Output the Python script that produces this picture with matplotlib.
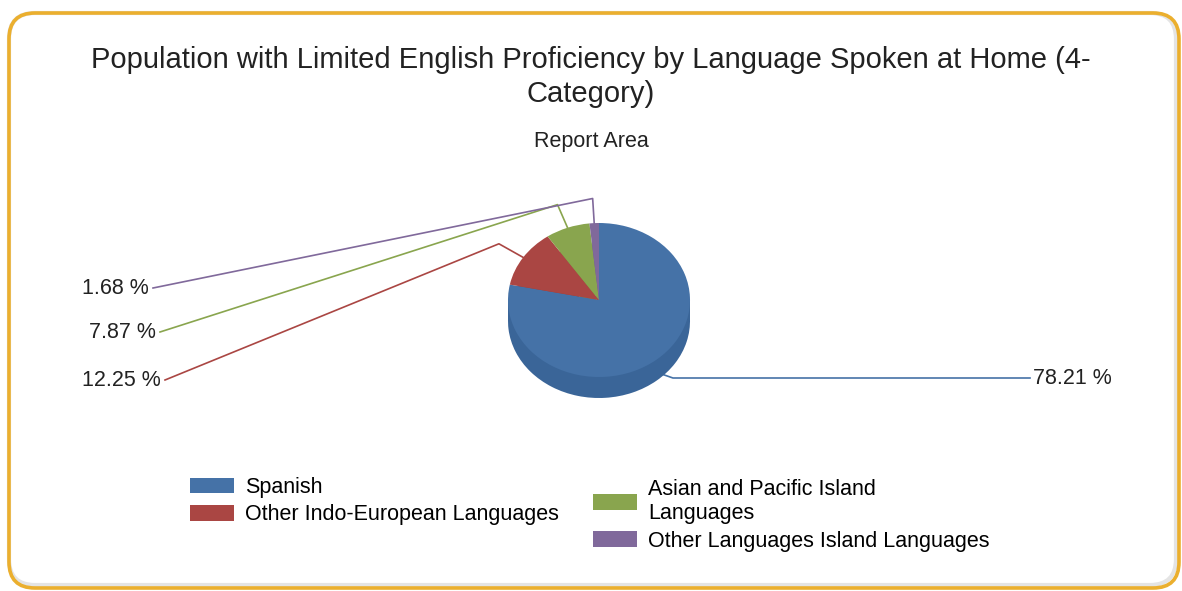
import numpy as np
import matplotlib.pyplot as plt
from matplotlib.patches import FancyBboxPatch, Patch

plt.rcParams["font.family"] = ["Liberation Sans", "DejaVu Sans"]

# data
languages = [
    "Spanish",
    "Other Indo-European Languages",
    "Asian and Pacific Island\nLanguages",
    "Other Languages Island Languages",
]
shares = [78.21, 12.25, 7.87, 1.68]
colors = ["#4572A7", "#AA4643", "#89A54E", "#80699B"]
side_colors = ["#3A6598", "#943D3A", "#778F43", "#6F5A88"]

# layout in image pixels (origin top-left)
W, H = 1182, 591
cx, cy = 599, 300        # centre of the pie's top face
rx, ry = 91, 77          # semi-axes of the top face
depth = 21
# where each leader line ends
label_ends = [(1030, 378), (165, 380), (160, 332), (153, 288)]


def to_data(px, py):
    return (px - cx) / rx, (cy - py) / ry


fig = plt.figure(figsize=(W / 100, H / 100), dpi=100)

# rounded orange frame with a soft grey inner shadow
bg = fig.add_axes([0, 0, 1, 1])
bg.set_xlim(0, W)
bg.set_ylim(H, 0)
bg.axis("off")
bg.add_patch(FancyBboxPatch((9, 13), W - 9 - 6, H - 13 - 6,
                            boxstyle="round,pad=0,rounding_size=26",
                            fc="none", ec="#E4E4E4", lw=3, zorder=1))
bg.add_patch(FancyBboxPatch((9, 13), W - 9 - 3, H - 13 - 3,
                            boxstyle="round,pad=0,rounding_size=26",
                            fc="none", ec="#EBAF2E", lw=2.6, zorder=2))

fig.text(0.5, 1 - 60 / H, "Population with Limited English Proficiency by Language Spoken at Home (4-",
         ha="center", va="center", fontsize=21, color="#222222")
fig.text(0.5, 1 - 94 / H, "Category)", ha="center", va="center",
         fontsize=21, color="#222222")
fig.text(0.5, 1 - 142 / H, "Report Area", ha="center", va="center",
         fontsize=15.5, color="#222222")

# pie axes: 1 data unit = rx px horizontally, ry px vertically
span = 1.25
aw, ah = 2 * span * rx, 2 * span * ry
ax = fig.add_axes([(cx - aw / 2) / W, (H - cy - ah / 2) / H, aw / W, ah / H])
d = depth / ry

# extruded side
ax.pie(shares, colors=side_colors, startangle=90, counterclock=False,
       center=(0, -d), wedgeprops=dict(lw=0))
ax.fill_between([-1, 1], [-d, -d], [0, 0], color=side_colors[0], lw=0)
wedges, _ = ax.pie(shares, colors=colors, startangle=90, counterclock=False,
                   wedgeprops=dict(lw=0))
ax.set_aspect("auto")
ax.set_xlim(-span, span)
ax.set_ylim(-span, span)
ax.axis("off")

# leader lines and labels
for i, w in enumerate(wedges):
    mid = np.deg2rad((w.theta1 + w.theta2) / 2)
    ex, ey = to_data(*label_ends[i])
    if i == 0:
        start = (np.cos(mid), np.sin(mid) - d * 0.6)
        elbow = (np.cos(mid) + 0.18, ey)
    else:
        start = (np.cos(mid), np.sin(mid))
        elbow = (np.cos(mid) * 1.32, np.sin(mid) * 1.32)
    ax.plot([start[0], elbow[0], ex], [start[1], elbow[1], ey], color=colors[i],
            lw=1.2, clip_on=False, zorder=0)
    txt = f"{shares[i]:.2f} %"
    if ex > 0:
        ax.text(ex + 0.03, ey, txt, ha="left", va="center", fontsize=15.5,
                color="#222222", clip_on=False)
    else:
        ax.text(ex - 0.05, ey, txt, ha="right", va="center", fontsize=15.5,
                color="#222222", clip_on=False)

# legend in two columns
handles = [Patch(fc=c, ec="none") for c in colors]
legend_kw = dict(loc="upper left", frameon=False, fontsize=15.5,
                 handlelength=2.05, handleheight=0.75, handletextpad=0.5,
                 labelspacing=0.3, borderpad=0, borderaxespad=0)
fig.legend(handles[:2], languages[:2],
           bbox_to_anchor=(190 / W, 1 - 477 / H), **legend_kw)
fig.legend(handles[2:], languages[2:],
           bbox_to_anchor=(593 / W, 1 - 479 / H), **legend_kw)

fig.savefig("out.png", dpi=100)
